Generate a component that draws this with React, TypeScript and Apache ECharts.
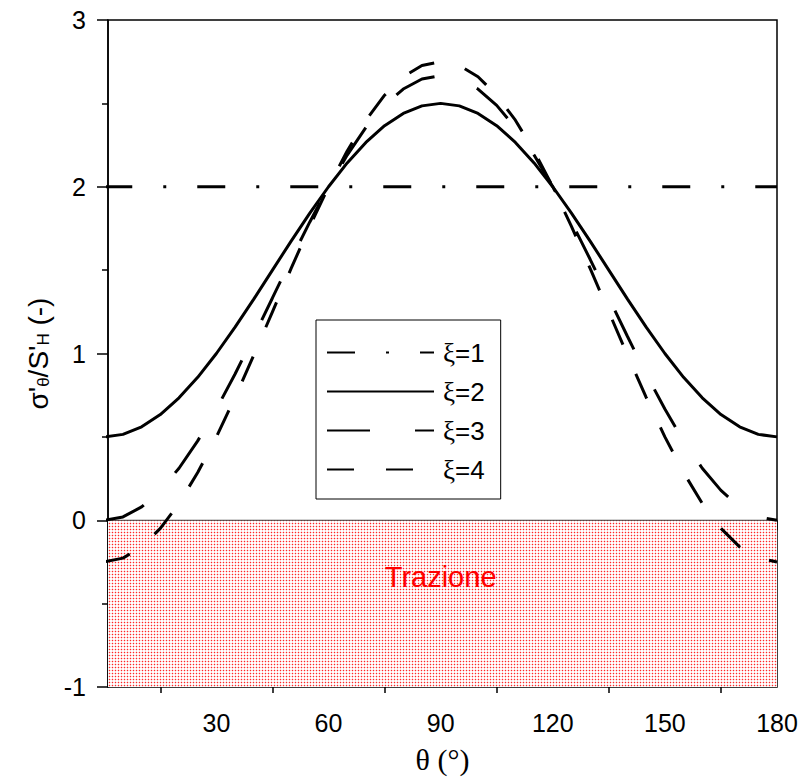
import React, { useEffect, useRef } from "react";
import * as echarts from "echarts";

// θ (°) sample positions
const theta = [0, 5, 10, 15, 20, 25, 30, 35, 40, 45, 50, 55, 60, 65, 70, 75, 80, 85, 90,
  95, 100, 105, 110, 115, 120, 125, 130, 135, 140, 145, 150, 155, 160, 165, 170, 175, 180];

// σ'θ/S'H values
const xi1 = [2, 2, 2, 2, 2, 2, 2, 2, 2, 2, 2, 2, 2, 2, 2, 2, 2, 2, 2,
  2, 2, 2, 2, 2, 2, 2, 2, 2, 2, 2, 2, 2, 2, 2, 2, 2, 2];
const xi2 = [0.5, 0.515, 0.56, 0.634, 0.734, 0.857, 1.0, 1.158, 1.326, 1.5, 1.674, 1.842, 2.0, 2.143, 2.266, 2.366, 2.44, 2.485, 2.5,
  2.485, 2.44, 2.366, 2.266, 2.143, 2.0, 1.842, 1.674, 1.5, 1.326, 1.158, 1.0, 0.857, 0.734, 0.634, 0.56, 0.515, 0.5];
const xi3 = [0, 0.02, 0.08, 0.179, 0.312, 0.476, 0.667, 0.877, 1.102, 1.333, 1.565, 1.789, 2.0, 2.19, 2.355, 2.488, 2.586, 2.646, 2.667,
  2.646, 2.586, 2.488, 2.355, 2.19, 2.0, 1.789, 1.565, 1.333, 1.102, 0.877, 0.667, 0.476, 0.312, 0.179, 0.08, 0.02, 0];
const xi4 = [-0.25, -0.227, -0.16, -0.049, 0.101, 0.286, 0.5, 0.737, 0.99, 1.25, 1.51, 1.763, 2.0, 2.214, 2.399, 2.549, 2.66, 2.727, 2.75,
  2.727, 2.66, 2.549, 2.399, 2.214, 2.0, 1.763, 1.51, 1.25, 0.99, 0.737, 0.5, 0.286, 0.101, -0.049, -0.16, -0.227, -0.25];

const seriesNames = ["ξ=1", "ξ=2", "ξ=3", "ξ=4"];

// axes
const xMin = 1;
const xMax = 180;
const xMajorTicks = [30, 60, 90, 120, 150, 180];
const xMinorTicks = [15, 45, 75, 105, 135, 165];
const yMin = -1;
const yMax = 3;
const yInterval = 1;

// tension zone
const trazioneX = [1, 180];
const trazioneY = [0, 0];
const trazioneText = "Trazione";
const trazioneTextPos = [90, -0.34];

const FONT = "Liberation Sans";

function makePattern(): string {
  const c = document.createElement("canvas");
  c.width = 3;
  c.height = 3;
  const ctx = c.getContext("2d");
  if (ctx) {
    ctx.fillStyle = "#ffffff";
    ctx.fillRect(0, 0, 3, 3);
    ctx.fillStyle = "rgb(255,212,212)";
    ctx.fillRect(1, 0, 1, 3);
    ctx.fillRect(0, 1, 3, 1);
    ctx.fillStyle = "rgb(255,40,40)";
    ctx.fillRect(1, 1, 1, 1);
  }
  return c.toDataURL();
}

export default function App() {
  const ref = useRef<HTMLDivElement>(null);

  useEffect(() => {
    if (!ref.current) return;
    const chart = echarts.init(ref.current, null, { renderer: "svg" });
    const pair = (arr: number[]) => theta.map((t, i) => [t, arr[i]]);
    const lineCommon = {
      type: "line" as const,
      showSymbol: false,
      symbol: "none",
      smooth: false,
      clip: true,
      z: 5,
    };
    const option: any = {
      animation: false,
      backgroundColor: "#ffffff",
      grid: {
        left: 108,
        right: 25,
        top: 20,
        bottom: 90,
        show: true,
        borderColor: "#000",
        borderWidth: 1.5,
        backgroundColor: "transparent",
      },
      legend: {
        show: true,
        orient: "vertical",
        left: 316,
        top: 320,
        data: seriesNames,
        borderColor: "#000",
        borderWidth: 1,
        padding: [19, 16, 16, 10],
        itemWidth: 107,
        itemHeight: 12,
        itemGap: 12,
        itemStyle: { opacity: 0 },
        formatter: (name: string) => {
          const parts = name.split("=");
          return "{g|" + parts[0] + "}{t|=" + parts[1] + "}";
        },
        textStyle: {
          fontFamily: FONT,
          fontSize: 26,
          color: "#000",
          padding: [0, 0, 0, 4],
          rich: {
            g: { fontFamily: "Liberation Serif", fontSize: 27, color: "#000" },
            t: { fontFamily: FONT, fontSize: 26, color: "#000" },
          },
        },
        selectedMode: false,
      },
      xAxis: [
        {
          type: "value",
          min: xMin,
          max: xMax,
          position: "bottom",
          axisLine: { show: true, lineStyle: { color: "#000", width: 1.5 } },
          axisTick: {
            show: true,
            inside: false,
            length: 10,
            customValues: xMajorTicks,
            lineStyle: { color: "#000", width: 1.5 },
          },
          axisLabel: {
            show: true,
            customValues: xMajorTicks,
            fontFamily: FONT,
            fontSize: 25,
            color: "#000",
            margin: 23,
          },
          splitLine: { show: false },
          name: "θ (°)",
          nameLocation: "middle",
          nameGap: 57,
          nameTextStyle: { fontFamily: "Liberation Serif", fontSize: 30, color: "#000" },
        },
        {
          type: "value",
          min: xMin,
          max: xMax,
          position: "bottom",
          axisLine: { show: false },
          axisTick: {
            show: true,
            inside: false,
            length: 6,
            customValues: xMinorTicks,
            lineStyle: { color: "#000", width: 1.5 },
          },
          axisLabel: { show: false },
          splitLine: { show: false },
        },
      ],
      yAxis: {
        type: "value",
        min: yMin,
        max: yMax,
        interval: yInterval,
        axisLine: { show: true, lineStyle: { color: "#000", width: 1.5 } },
        axisTick: { show: true, inside: false, length: 11, lineStyle: { color: "#000", width: 1.5 } },
        minorTick: { show: true, splitNumber: 2, length: 6, lineStyle: { color: "#000", width: 1.5 } },
        axisLabel: { fontFamily: FONT, fontSize: 25, color: "#000", margin: 22 },
        splitLine: { show: false },
        minorSplitLine: { show: false },
        name: "{a|σ'}{s|θ}{a|/S'}{s|H}{a| (-)}",
        nameLocation: "middle",
        nameGap: 56,
        nameRotate: 90,
        nameTextStyle: {
          rich: {
            a: { fontFamily: FONT, fontSize: 28, color: "#000", lineHeight: 32, verticalAlign: "bottom" },
            s: { fontFamily: FONT, fontSize: 17, color: "#000", lineHeight: 17, verticalAlign: "bottom" },
          },
        },
      },
      series: [
        {
          name: "trazione",
          type: "line",
          showSymbol: false,
          symbol: "none",
          silent: true,
          z: 1,
          data: trazioneX.map((x, i) => [x, trazioneY[i]]),
          lineStyle: { color: "#444", width: 1 },
          areaStyle: {
            origin: "start",
            opacity: 1,
            color: { image: makePattern(), repeat: "repeat", imageWidth: 3, imageHeight: 3 },
          },
          markPoint: {
            silent: true,
            symbol: "circle",
            symbolSize: 0,
            data: [
              {
                coord: trazioneTextPos,
                label: {
                  show: true,
                  position: "inside",
                  formatter: trazioneText,
                  color: "#ff0000",
                  fontFamily: FONT,
                  fontSize: 29,
                },
              },
            ],
          },
        },
        {
          ...lineCommon,
          name: seriesNames[0],
          data: pair(xi1),
          lineStyle: { color: "#000", width: 3, type: [28, 31, 3, 31], cap: "butt" },
          itemStyle: { color: "#000" },
        },
        {
          ...lineCommon,
          name: seriesNames[1],
          data: pair(xi2),
          lineStyle: { color: "#000", width: 3, type: "solid" },
          itemStyle: { color: "#000" },
        },
        {
          ...lineCommon,
          name: seriesNames[2],
          data: pair(xi3),
          lineStyle: { color: "#000", width: 3, type: [43, 45], cap: "butt" },
          itemStyle: { color: "#000" },
        },
        {
          ...lineCommon,
          name: seriesNames[3],
          data: pair(xi4),
          lineStyle: { color: "#000", width: 3, type: [27, 32], cap: "butt" },
          itemStyle: { color: "#000" },
        },
      ],
    };
    chart.setOption(option);
    return () => chart.dispose();
  }, []);

  return (
    <div
      ref={ref}
      style={{ position: "fixed", left: 0, top: 0, width: 802, height: 779, background: "#fff" }}
    />
  );
}
